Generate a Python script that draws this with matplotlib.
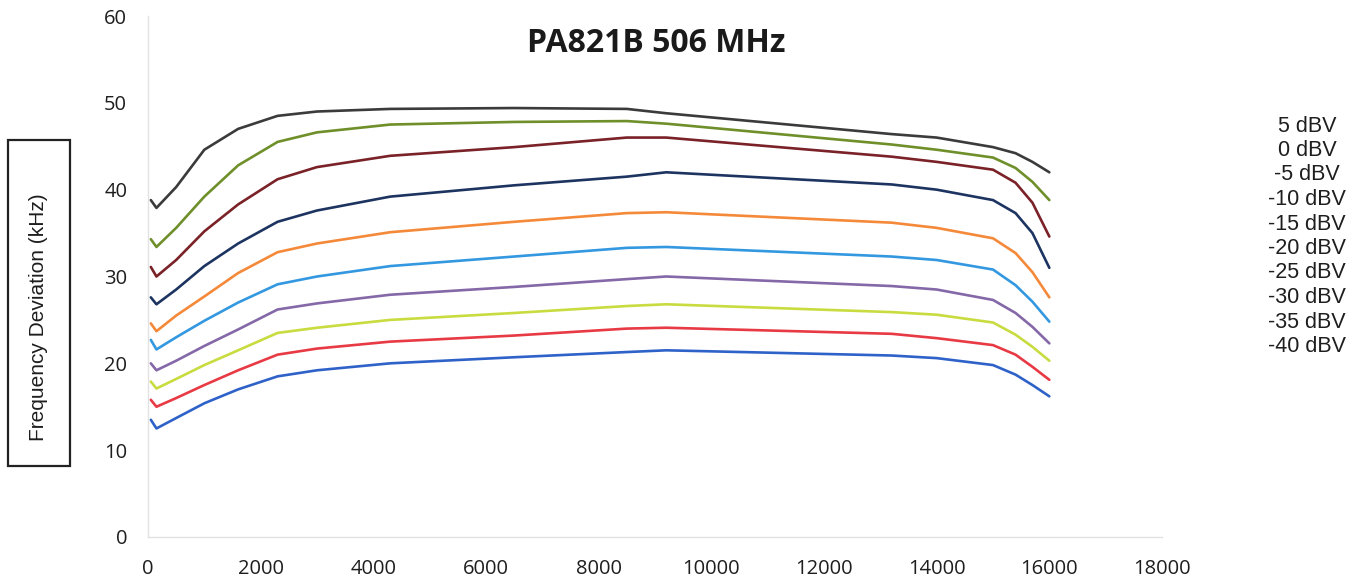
import numpy as np
import matplotlib
matplotlib.use("Agg")
import matplotlib.pyplot as plt
from matplotlib.patches import Rectangle

# audio frequency (Hz) at which each curve was read
freq = [50, 150, 500, 1000, 1600, 2300, 3000, 4300, 6500, 8500, 9200,
        13200, 14000, 15000, 15400, 15700, 16000]

dev_p5 = [38.8, 37.9, 40.3, 44.6, 47.0, 48.5, 49.0, 49.3, 49.4, 49.3, 48.8,
          46.4, 46.0, 44.9, 44.2, 43.2, 42.0]
dev_0 = [34.3, 33.4, 35.6, 39.2, 42.8, 45.5, 46.6, 47.5, 47.8, 47.9, 47.6,
         45.2, 44.6, 43.7, 42.5, 40.9, 38.8]
dev_m5 = [31.1, 30.0, 31.9, 35.2, 38.3, 41.2, 42.6, 43.9, 44.9, 46.0, 46.0,
          43.8, 43.2, 42.3, 40.8, 38.5, 34.6]
dev_m10 = [27.6, 26.8, 28.5, 31.2, 33.8, 36.3, 37.6, 39.2, 40.5, 41.5, 42.0,
           40.6, 40.0, 38.8, 37.3, 35.0, 31.0]
dev_m15 = [24.6, 23.7, 25.5, 27.7, 30.4, 32.8, 33.8, 35.1, 36.3, 37.3, 37.4,
           36.2, 35.6, 34.4, 32.7, 30.5, 27.6]
dev_m20 = [22.7, 21.6, 23.0, 24.9, 27.0, 29.1, 30.0, 31.2, 32.3, 33.3, 33.4,
           32.3, 31.9, 30.8, 29.0, 27.1, 24.8]
dev_m25 = [20.0, 19.2, 20.3, 22.0, 23.9, 26.2, 26.9, 27.9, 28.8, 29.7, 30.0,
           28.9, 28.5, 27.3, 25.8, 24.2, 22.3]
dev_m30 = [17.9, 17.1, 18.2, 19.8, 21.5, 23.5, 24.1, 25.0, 25.8, 26.6, 26.8,
           25.9, 25.6, 24.7, 23.3, 21.9, 20.3]
dev_m35 = [15.8, 15.0, 16.0, 17.5, 19.2, 21.0, 21.7, 22.5, 23.2, 24.0, 24.1,
           23.4, 22.9, 22.1, 21.0, 19.6, 18.1]
dev_m40 = [13.5, 12.5, 13.7, 15.4, 17.0, 18.5, 19.2, 20.0, 20.7, 21.3, 21.5,
           20.9, 20.6, 19.8, 18.7, 17.5, 16.2]

series = [dev_p5, dev_0, dev_m5, dev_m10, dev_m15, dev_m20, dev_m25, dev_m30, dev_m35, dev_m40]
names = ["5 dBV", "0 dBV", "-5 dBV", "-10 dBV", "-15 dBV", "-20 dBV",
         "-25 dBV", "-30 dBV", "-35 dBV", "-40 dBV"]
colors = ["#3b3b3b", "#6f8f2a", "#7a2228", "#1d3461", "#f5893a",
          "#3398e0", "#8468a8", "#c8dc40", "#e83a44", "#2f62c8"]

W, H = 1361, 584
fig = plt.figure(figsize=(W / 100, H / 100), dpi=100)
ax = fig.add_axes([148 / W, 1 - 537 / H, (1162 - 148) / W, (537 - 16) / H])

for s, c in zip(series, colors):
    ax.plot(freq, s, color=c, lw=1.9, solid_capstyle="round", solid_joinstyle="round")

ax.set_xlim(0, 18000)
ax.set_ylim(0, 60)
ax.set_xticks(np.arange(0, 18001, 2000))
ax.set_yticks(np.arange(0, 61, 10))
ax.tick_params(length=0, labelsize=14.5, colors="#1e1e1e")
ax.tick_params(axis="y", pad=15)
ax.tick_params(axis="x", pad=16)
for lab in ax.get_xticklabels() + ax.get_yticklabels():
    lab.set_fontfamily("Open Sans")
for sp in ["top", "right"]:
    ax.spines[sp].set_visible(False)
for sp in ["left", "bottom"]:
    ax.spines[sp].set_color("#e2e2e2")
    ax.spines[sp].set_linewidth(1.0)

fig.text(656 / W, 1 - 43 / H, "PA821B 506 MHz", ha="center", va="center",
         fontsize=23, fontweight="bold", family="Open Sans", color="#1a1a1a")

# boxed y label
fig.patches.append(Rectangle((8 / W, 1 - 466 / H), 62 / W, 326 / H,
                             transform=fig.transFigure, fill=False,
                             edgecolor="#222222", lw=1.6))
fig.text(39 / W, 1 - 317 / H, "Frequency Deviation (kHz)", rotation=90,
         ha="center", va="center", fontsize=15, family="Liberation Sans",
         color="#1e1e1e")

# legend labels
for i, n in enumerate(names):
    fig.text(1307 / W, 1 - (126 + 24.5 * i) / H, n, ha="center", va="center",
             fontsize=15.5, family="Liberation Sans", color="#1e1e1e")

fig.savefig("out.png", dpi=100)
